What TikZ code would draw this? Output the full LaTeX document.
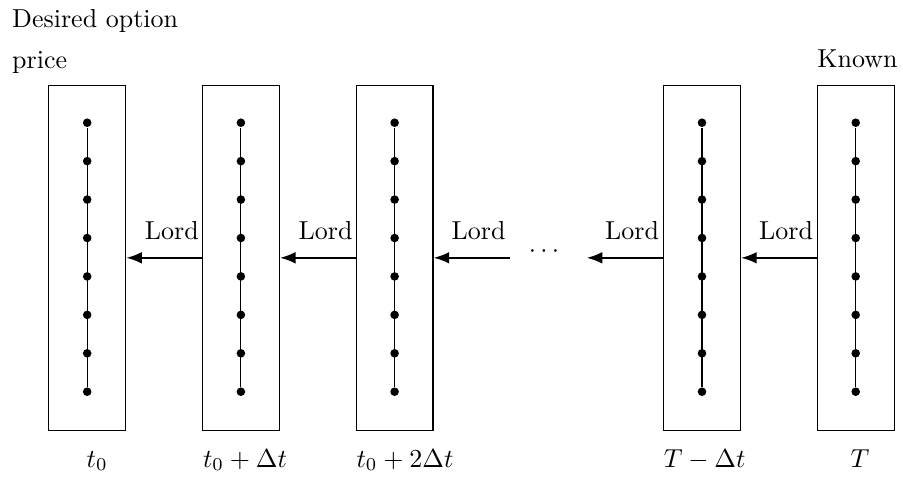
\documentclass[tikz,border=0pt]{standalone}
\usetikzlibrary{arrows.meta}
\begin{document}
\begin{tikzpicture}[x=0.385pt,y=-0.385pt,
  colbox/.style={draw,line width=0.45pt,minimum width=29.6pt,minimum height=132.8pt,inner sep=0pt},
  gdot/.style={circle,fill=black,inner sep=0pt,minimum size=3.3pt},
  flow/.style={line width=0.8pt,-{Latex[length=6pt,width=4.5pt]}},
  lord/.style={anchor=base east,inner sep=0pt},
  lab/.style={anchor=base,inner sep=0pt}]
\useasboundingbox (0,0) rectangle (903,477);
\foreach \n/\x in {1/87.2,2/240.9,3/394.6,4/702.0,5/855.7}{
  \node[colbox] (b\n) at (\x,257.8) {};
  \foreach \k in {0,...,7}{
    \node[gdot] (d\n-\k) at (\x,{122.7+38.43*\k}) {};
  }
  \draw[line width=0.45pt] (d\n-0) -- (d\n-7);
}
\coordinate (a3s) at (510,257.8);
\coordinate (a4e) at (586.7,257.8);
\draw[flow] (b2.west) -- (b1.east);
\draw[flow] (b3.west) -- (b2.east);
\draw[flow] (a3s) -- (b3.east);
\draw[flow] (b4.west) -- (a4e);
\draw[flow] (b5.west) -- (b4.east);
\node[lord] (l1) at (199.3,239) {Lord};
\node[lord] (l2) at (353,239) {Lord};
\node[lord] (l3) at (506,239) {Lord};
\node[lord] (l4) at (659.5,239) {Lord};
\node[lord] (l5) at (813.5,239) {Lord};
\node[anchor=base,inner sep=0pt] (dots) at (544,257.8) {$\cdots$};
\node[anchor=base west,inner sep=0pt] (des1) at (11.7,27.3) {Desired option};
\node[anchor=base west,inner sep=0pt] (des2) at (11.7,68) {price};
\node[anchor=base,inner sep=0pt] (known) at (857.5,67) {Known};
\node[lab] (t1) at (97.2,467) {$t_0$};
\node[lab] (t2) at (245,467) {$t_0+\Delta t$};
\node[lab] (t3) at (405,467) {$t_0+2\Delta t$};
\node[lab] (t4) at (704.7,467) {$T-\Delta t$};
\node[lab] (t5) at (859.9,467) {$T$};
\end{tikzpicture}
\end{document}
